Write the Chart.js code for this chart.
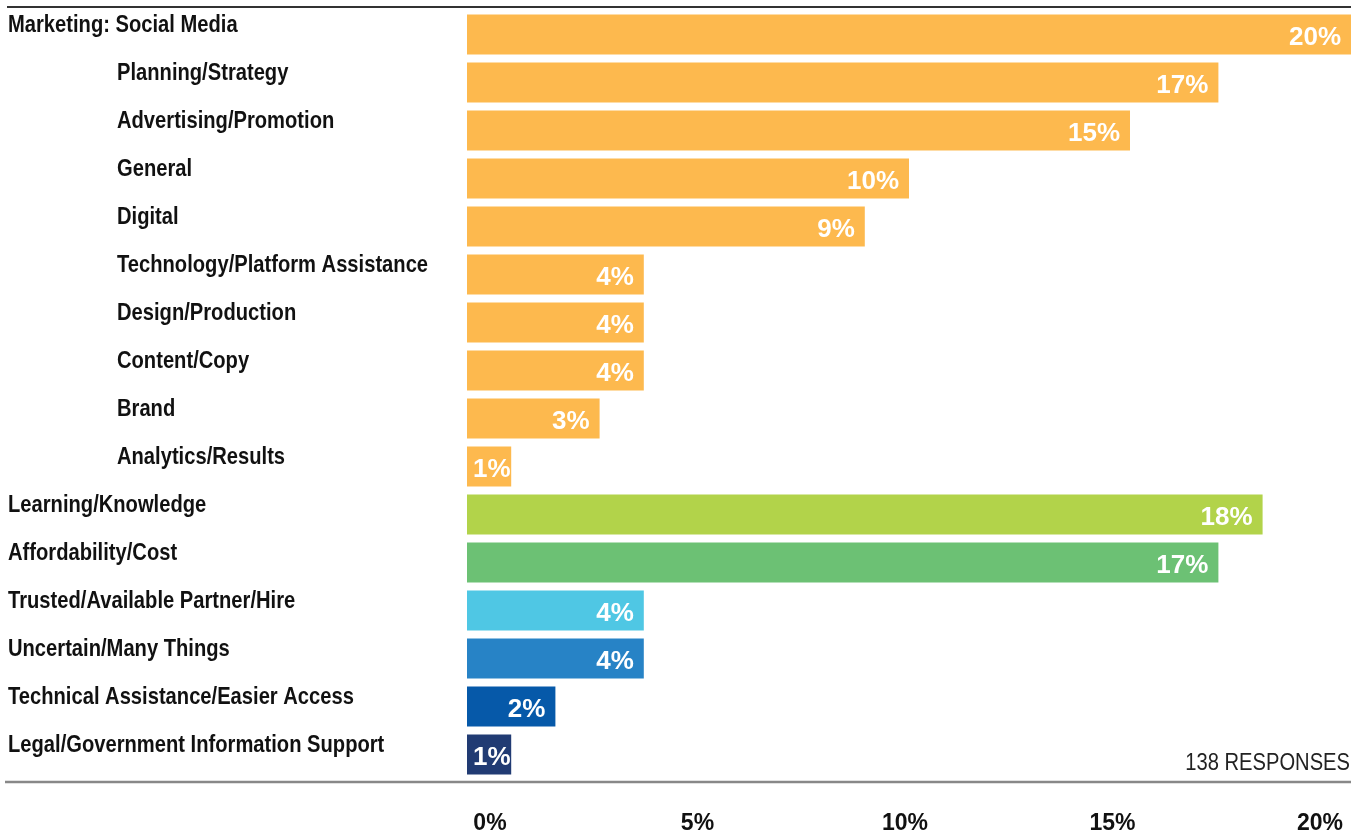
<!DOCTYPE html>
<html>
<head>
<meta charset="utf-8">
<script src="https://cdn.jsdelivr.net/npm/chart.js"></script>
<style>
  html, body { margin: 0; padding: 0; background: #fff; }
  #wrap { width: 1362px; height: 834px; }
</style>
</head>
<body>
<div id="wrap"><canvas id="myChart" width="1362" height="834"></canvas></div>
<script>
  // Survey answers, in the order they are listed
  const categories = [
    'Marketing: Social Media',
    'Planning/Strategy',
    'Advertising/Promotion',
    'General',
    'Digital',
    'Technology/Platform Assistance',
    'Design/Production',
    'Content/Copy',
    'Brand',
    'Analytics/Results',
    'Learning/Knowledge',
    'Affordability/Cost',
    'Trusted/Available Partner/Hire',
    'Uncertain/Many Things',
    'Technical Assistance/Easier Access',
    'Legal/Government Information Support'
  ];
  // true = breakdown under "Marketing: Social Media"
  const isSubItem = [false, true, true, true, true, true, true, true, true, true,
                     false, false, false, false, false, false];
  // share of responses, %
  const percentages = [20, 17, 15, 10, 9, 4, 4, 4, 3, 1, 18, 17, 4, 4, 2, 1];
  const tickValues = [0, 5, 10, 15, 20];
  const responseCount = 138;

  const ORANGE = '#FDB94E';
  const barColors = [
    ORANGE, ORANGE, ORANGE, ORANGE, ORANGE, ORANGE, ORANGE, ORANGE, ORANGE, ORANGE,
    '#B2D34A', '#6CC174', '#4FC7E4', '#2783C6', '#0659A9', '#213B73'
  ];

  const SANS = '"Liberation Sans", Arial, sans-serif';
  const NARROW_X = 0.84;   // horizontal squeeze for the condensed look

  function condensedText(ctx, text, x, y) {
    ctx.save();
    ctx.translate(x, y);
    ctx.scale(NARROW_X, 1);
    ctx.fillText(text, 0, 0);
    ctx.restore();
  }

  // rules, category labels, value labels and the response count
  const decorations = {
    id: 'decorations',
    afterDatasetsDraw(chart) {
      const { ctx, chartArea, scales: { y } } = chart;
      ctx.save();

      ctx.strokeStyle = '#333';
      ctx.lineWidth = 2;
      ctx.beginPath();
      ctx.moveTo(7, chartArea.top - 3.5);
      ctx.lineTo(chartArea.right, chartArea.top - 3.5);
      ctx.stroke();

      ctx.strokeStyle = '#888';
      ctx.lineWidth = 2.5;
      ctx.beginPath();
      ctx.moveTo(5, chartArea.bottom + 3.5);
      ctx.lineTo(chartArea.right, chartArea.bottom + 3.5);
      ctx.stroke();

      ctx.fillStyle = '#111';
      ctx.font = 'bold 24px ' + SANS;
      ctx.textAlign = 'left';
      ctx.textBaseline = 'alphabetic';
      categories.forEach((name, i) => {
        condensedText(ctx, name, isSubItem[i] ? 117 : 8, y.getPixelForValue(i) - 2.5);
      });

      ctx.fillStyle = '#fff';
      ctx.font = 'bold 26px ' + SANS;
      ctx.textAlign = 'right';
      chart.getDatasetMeta(0).data.forEach((bar, i) => {
        const text = percentages[i] + '%';
        const w = ctx.measureText(text).width;
        const right = Math.max(bar.x - 10, bar.base + w + 6);
        ctx.fillText(text, right, bar.y + 10.5);
      });

      ctx.fillStyle = '#222';
      ctx.font = '24px ' + SANS;
      condensedText(ctx, responseCount + ' RESPONSES', chartArea.right - 1, chartArea.bottom - 8.5);
      ctx.restore();
    }
  };

  new Chart(document.getElementById('myChart'), {
    type: 'bar',
    data: {
      labels: categories,
      datasets: [{
        data: percentages,
        backgroundColor: barColors,
        borderWidth: 0,
        categoryPercentage: 1,
        barPercentage: 0.83
      }]
    },
    options: {
      indexAxis: 'y',
      responsive: false,
      animation: false,
      devicePixelRatio: 1,
      layout: { padding: { left: 467, right: 11, top: 10.5, bottom: 0 } },
      plugins: { legend: { display: false }, tooltip: { enabled: false } },
      scales: {
        y: { type: 'category', display: false, offset: true },
        x: { type: 'linear', display: false, min: 0, max: 20 },
        // tick row under the bottom rule
        xTicks: {
          type: 'linear',
          position: 'bottom',
          min: -0.554,
          max: 20.747,
          afterBuildTicks: scale => { scale.ticks = tickValues.map(v => ({ value: v })); },
          afterFit: scale => {
            scale.height = 55.5;
            scale.paddingLeft = 0;
            scale.paddingRight = 0;
          },
          grid: { display: false, drawTicks: false },
          border: { display: false },
          ticks: {
            padding: 34,
            color: '#111',
            font: { family: SANS, size: 23, weight: 'bold', lineHeight: 1 },
            callback: v => v + '%'
          }
        }
      }
    },
    plugins: [decorations]
  });
</script>
</body>
</html>
